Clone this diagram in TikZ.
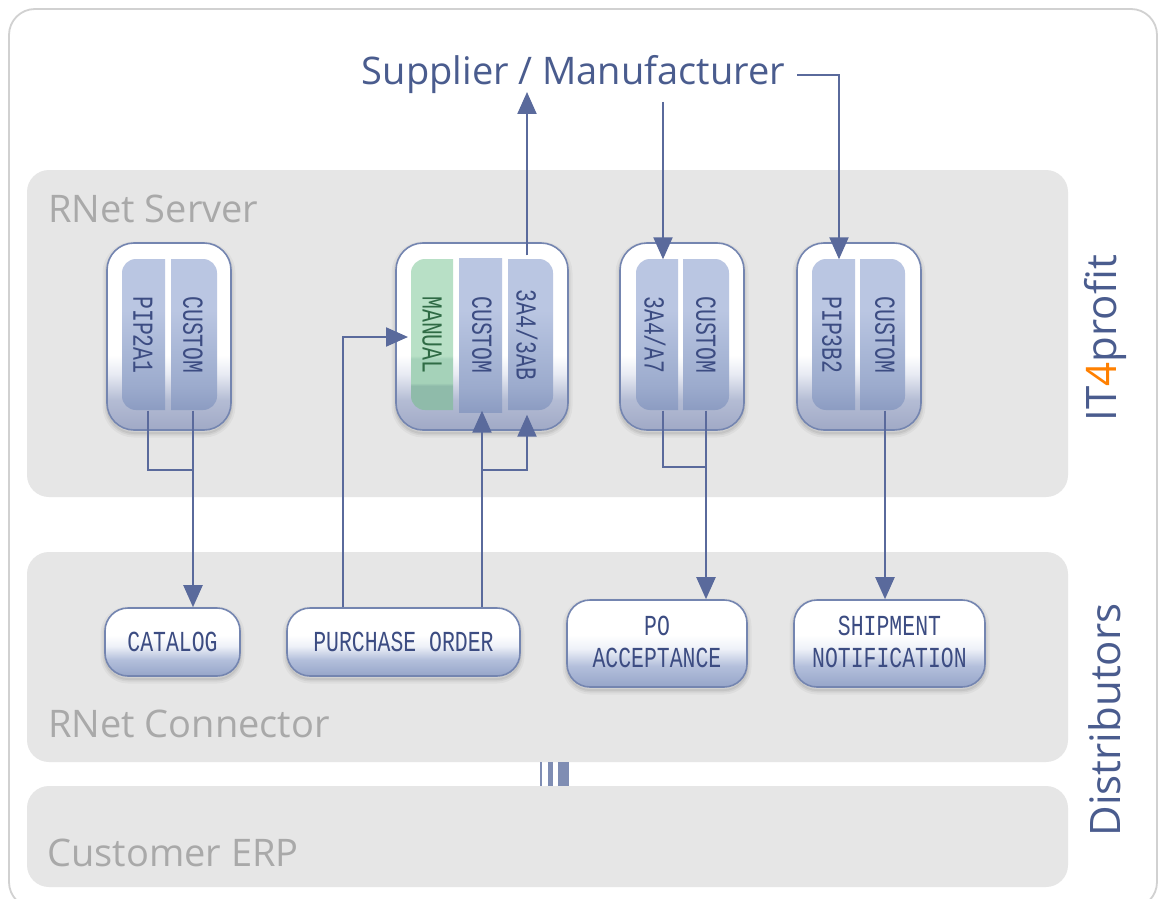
\documentclass[tikz,border=0pt]{standalone}
\usepackage{fontspec}
\setmainfont{Open Sans}
\newfontfamily\pixfont[FakeStretch=0.74]{Liberation Mono}
\usetikzlibrary{arrows.meta}
\definecolor{linec}{HTML}{5A6A9C}
\definecolor{edgec}{HTML}{7485B0}
\definecolor{barc}{HTML}{7F8DB3}
\definecolor{pixc}{HTML}{3C4C82}
\definecolor{pixg}{HTML}{2F6B45}
\definecolor{greyt}{HTML}{A9A9A9}
\definecolor{headc}{HTML}{4A5C8E}
\definecolor{panelc}{HTML}{E6E6E6}
\definecolor{oa}{HTML}{A0A9C6}\definecolor{ob}{HTML}{B4BCD4}\definecolor{oc}{HTML}{E8EBF3}
\definecolor{ia}{HTML}{8C9CC2}\definecolor{ib}{HTML}{9CABCD}\definecolor{ic}{HTML}{AAB8D7}\definecolor{id}{HTML}{BAC6E2}
\definecolor{ga}{HTML}{8FBBAA}\definecolor{gb}{HTML}{A5D2B9}\definecolor{gc}{HTML}{B8E0C6}
\definecolor{na}{HTML}{96A5C9}\definecolor{nb}{HTML}{B3BFDB}\definecolor{nc}{HTML}{EEF1F8}
\pgfdeclareverticalshading{cardsh}{100bp}{color(0bp)=(oa);color(25bp)=(oa);color(33bp)=(ob);color(40bp)=(oc);color(45bp)=(white);color(100bp)=(white)}
\pgfdeclareverticalshading{segsh}{100bp}{color(0bp)=(ia);color(25bp)=(ia);color(33bp)=(ib);color(45bp)=(ic);color(58bp)=(id);color(100bp)=(id)}
\pgfdeclareverticalshading{greensh}{100bp}{color(0bp)=(ga);color(25bp)=(ga);color(33bp)=(ga);color(34bp)=(gb);color(42bp)=(gb);color(43bp)=(gc);color(100bp)=(gc)}
\pgfdeclareverticalshading{msgsh}{100bp}{color(0bp)=(na);color(25bp)=(na);color(37bp)=(nb);color(47bp)=(nc);color(55bp)=(white);color(100bp)=(white)}
\tikzset{
 softshadow/.style={preaction={draw=black,draw opacity=.035,line width=9pt,transform canvas={yshift=-3pt}},
  preaction={draw=black,draw opacity=.05,line width=5pt,transform canvas={yshift=-3pt}},
  preaction={draw=black,draw opacity=.06,line width=2pt,transform canvas={yshift=-3pt}}},
 panel/.style={fill=panelc,draw=none,rounded corners=22pt},
 card/.style={softshadow,draw=edgec,line width=1.6pt,shading=cardsh,rounded corners=27pt},
 seg/.style={shading=segsh,draw=none},
 greenseg/.style={shading=greensh,draw=none},
 msg/.style={rectangle,softshadow,draw=edgec,line width=1.6pt,shading=msgsh,rounded corners=23pt,inner sep=0pt,
  font=\pixfont\fontsize{29}{33}\selectfont,text=pixc,align=center},
 segtext/.style={rotate=-90,inner sep=0pt,minimum width=151pt,minimum height=20pt,
  font=\pixfont\fontsize{29}{33}\selectfont,text=pixc},
 grouplabel/.style={text=greyt,font=\fontsize{38}{42}\selectfont,inner sep=0pt,anchor=base west},
 sidelabel/.style={text=headc,font=\fontsize{42}{46}\selectfont,inner sep=0pt,rotate=90},
 wire/.style={draw=linec,line width=2.2pt},
 arrowwire/.style={wire,-{Triangle[length=22pt,width=19pt]}}
}
\begin{document}
\begin{tikzpicture}[x=1pt,y=-1pt]
\useasboundingbox (0,0) rectangle (1163,899);
\fill[white] (0,0) rectangle (1163,899);
% outer frame
\begin{scope}
\clip (0,0) rectangle (1163,899);
\draw[draw=black!18,line width=1.8pt,rounded corners=26pt] (9,9) rectangle (1157,908);
\end{scope}
% panels
\path[panel] (27,170) rectangle (1068,497);
\path[panel] (27,552) rectangle (1068,762);
\path[panel] (27,786) rectangle (1068,887);
% connector bars between the panels
\fill[barc] (540,762) rectangle (542,786);
\fill[barc] (548,762) rectangle (553,786);
\fill[barc] (558,762) rectangle (569,786);
% cards
\path[card] (107,243) rectangle (231,430);
\path[card] (396,243) rectangle (568,430);
\path[card] (620,243) rectangle (744,430);
\path[card] (797,243) rectangle (921,430);
% segments
\begin{scope}
\clip[rounded corners=14pt] (122,259) rectangle (217,410);
\path[seg] (122,259) rectangle (165,410);
\path[seg] (171,259) rectangle (217,410);
\end{scope}
\begin{scope}
\clip[rounded corners=14pt] (411,259) rectangle (553,410);
\path[greenseg] (411,259) rectangle (453,410);
\path[seg] (508,259) rectangle (553,410);
\end{scope}
\path[seg] (459,258) rectangle (502,412);
\begin{scope}
\clip[rounded corners=14pt] (636,259) rectangle (729,410);
\path[seg] (636,259) rectangle (678,410);
\path[seg] (683,259) rectangle (729,410);
\end{scope}
\begin{scope}
\clip[rounded corners=14pt] (812,259) rectangle (905,410);
\path[seg] (812,259) rectangle (855,410);
\path[seg] (860,259) rectangle (905,410);
\end{scope}
% segment labels
\node[segtext] (pipa) at (143,335) {PIP2A1};
\node[segtext] (cusa) at (193,335) {CUSTOM};
\node[segtext,text=pixg] (man) at (432,335) {MANUAL};
\node[segtext] (cusb) at (482,335) {CUSTOM};
\node[segtext] (tab) at (527,335) {3A4/3AB};
\node[segtext] (taa) at (655,335) {3A4/A7};
\node[segtext] (cusc) at (706,335) {CUSTOM};
\node[segtext] (pipb) at (832,335) {PIP3B2};
\node[segtext] (cusd) at (885,335) {CUSTOM};
% message nodes
\node[msg,minimum width=135pt,minimum height=68pt] (catalog) at (172.5,642) {CATALOG};
\node[msg,minimum width=233pt,minimum height=68pt] (po) at (403.5,642) {PURCHASE ORDER};
\node[msg,minimum width=180pt,minimum height=87pt] (poa) at (657,643.5) {\raisebox{3pt}{PO}\\[-1pt]\raisebox{3pt}{ACCEPTANCE}};
\node[msg,minimum width=191pt,minimum height=87pt] (ship) at (889.5,643.5) {\raisebox{3pt}{SHIPMENT}\\[-1pt]\raisebox{3pt}{NOTIFICATION}};
% titles
\node[text=headc,font=\fontsize{38}{42}\selectfont,inner sep=0pt] (sup) at (573.5,75) {Supplier / Manufacturer};
\node[grouplabel] (lsrv) at (48,222) {RNet Server};
\node[grouplabel] (lcon) at (48,737) {RNet Connector};
\node[grouplabel] (lerp) at (47,866) {Customer ERP};
\node[sidelabel] (lit) at (1105,338) {IT\textcolor{orange}{4}profit};
\node[sidelabel] (ldis) at (1105,720) {Distributors};
% anchor helpers offset from their owners
\coordinate (pipaout) at ([xshift=5pt]pipa.east);
\coordinate (poleft) at ([xshift=-60.5pt]po.north);
\coordinate (poright) at ([xshift=78.5pt]po.north);
\coordinate (manin) at ([xshift=-24pt,yshift=-2pt]man.center);
\coordinate (taain) at ([xshift=8pt]taa.west);
\coordinate (taaout) at ([xshift=8pt]taa.east);
\coordinate (pipbin) at ([xshift=7pt]pipb.west);
\coordinate (supdown) at (663,102);
\coordinate (supup) at (527,92);
\coordinate (supright) at (797,75);
% connectors
\draw[wire] (pipaout) |- (cusa.east |- 0,470) -- (cusa.east);
\draw[arrowwire] (cusa.east) -- (cusa.east |- catalog.north);
\draw[arrowwire] (poleft) |- (manin);
\draw[arrowwire] (poright) -- (poright |- cusb.east);
\draw[wire] (poright |- 0,470) -| ([yshift=-26pt]tab.east);
\draw[arrowwire] (tab.east |- 0,470) -- ([yshift=-4pt]tab.east);
\draw[arrowwire] ([yshift=4pt]tab.west) -- (supup);
\draw[arrowwire] (supdown) -- (taain);
\draw[wire] (taaout) |- (cusc.east |- 0,467) -- (cusc.east);
\draw[arrowwire] (cusc.east) -- (cusc.east |- poa.north);
\draw[arrowwire] (supright) -| (pipbin);
\draw[arrowwire] (cusd.east) -- (cusd.east |- ship.north);
\end{tikzpicture}
\end{document}
